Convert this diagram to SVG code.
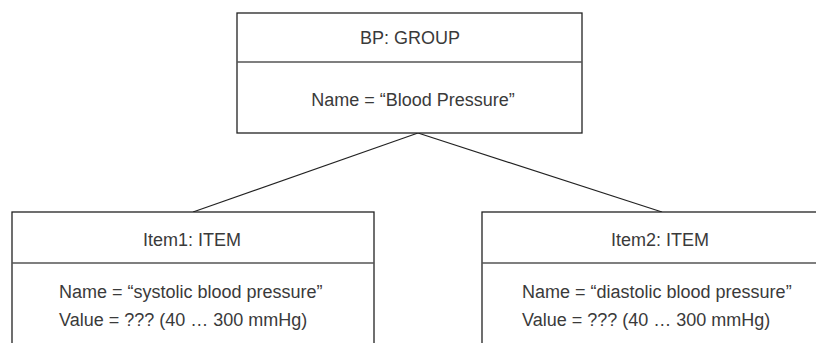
<svg xmlns="http://www.w3.org/2000/svg" width="816" height="343" viewBox="0 0 816 343">
<style>
.box{fill:#fff;stroke:#222;stroke-width:1.3}
.div{stroke:#555;stroke-width:1.5}
.t{font-family:"Liberation Sans",Arial,sans-serif;font-size:18px;fill:#3a3a3a}
.c{text-anchor:middle}
.edge{stroke:#222;stroke-width:1.2;fill:none}
</style>
<rect width="816" height="343" fill="#fff"/>
<g id="connectors">
<line class="edge" x1="418" y1="133" x2="193" y2="212"/>
<line class="edge" x1="418" y1="133" x2="662" y2="212"/>
</g>
<g id="bp">
<rect class="box" x="237" y="13" width="345" height="120"/>
<line class="div" x1="237" y1="62" x2="582" y2="62"/>
<text class="t c" x="410" y="44">BP: GROUP</text>
<text class="t c" x="413" y="106">Name = “Blood Pressure”</text>
</g>
<g id="item1">
<rect class="box" x="12" y="212" width="362" height="140"/>
<line class="div" x1="12" y1="263" x2="374" y2="263"/>
<text class="t c" x="192" y="246">Item1: ITEM</text>
<text class="t" x="59" y="298">Name = “systolic blood pressure”</text>
<text class="t" x="59" y="326">Value = ??? (40 … 300 mmHg)</text>
</g>
<g id="item2">
<rect class="box" x="482" y="212" width="362" height="140"/>
<line class="div" x1="482" y1="263" x2="844" y2="263"/>
<text class="t c" x="660" y="246">Item2: ITEM</text>
<text class="t" x="522" y="298">Name = “diastolic blood pressure”</text>
<text class="t" x="522" y="326">Value = ??? (40 … 300 mmHg)</text>
</g>
</svg>
